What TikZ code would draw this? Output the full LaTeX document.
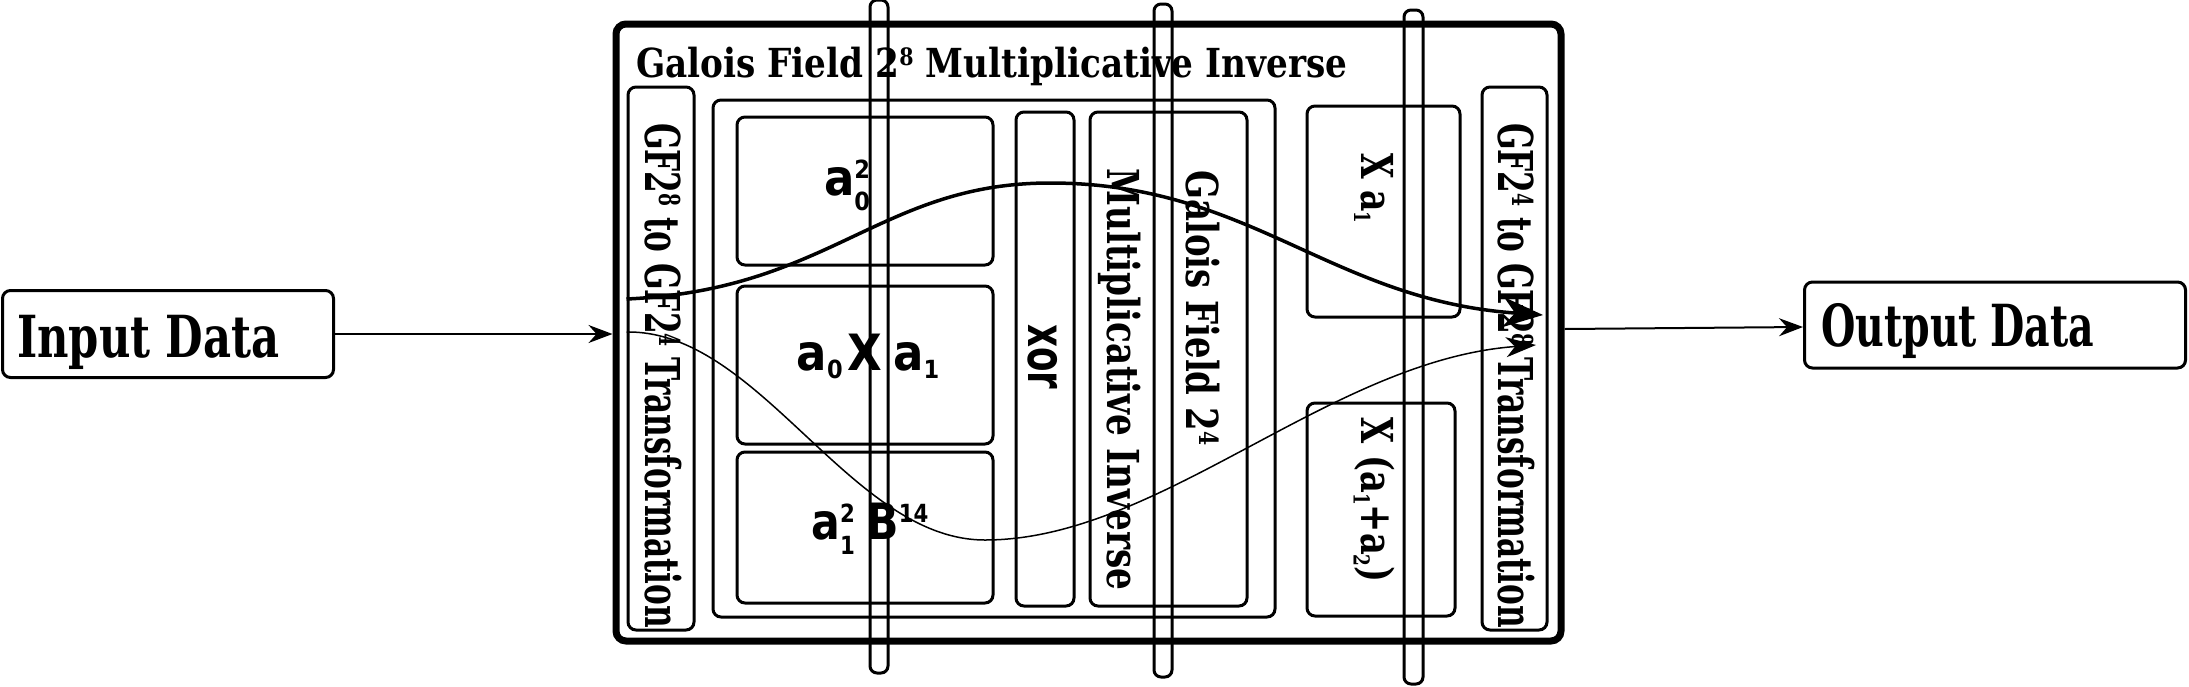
\documentclass[tikz,border=0pt]{standalone}
\usepackage{fontspec}
\setmainfont{DejaVu Serif Condensed}[BoldFont={DejaVu Serif Condensed Bold}]
\newfontfamily\sansc{DejaVu Sans Condensed}[BoldFont={DejaVu Sans Condensed Bold}]
\usetikzlibrary{arrows.meta}
\newcommand{\up}[1]{\raisebox{0.34em}{\scalebox{0.5}{#1}}}
\newcommand{\gsup}[1]{\raisebox{0.3em}{\scalebox{0.6}{#1}}}
\newcommand{\dn}[1]{\raisebox{-0.17em}{\scalebox{0.5}{#1}}}
\newcommand{\ddn}[1]{\raisebox{-0.3em}{\scalebox{0.5}{#1}}}
\newcommand{\updn}[2]{\makebox[0pt][l]{\up{#1}}\ddn{#2}}
\newcommand{\fitw}[2]{\resizebox{#1}{\height}{#2}}
\begin{document}
\begin{tikzpicture}[x=1pt,y=-1pt,
  box/.style={draw, line width=3pt, rounded corners=8pt, inner sep=0pt},
  outerbox/.style={draw, line width=7pt, rounded corners=10pt, inner sep=0pt},
  caps/.style={draw, line width=3pt, rounded corners=7pt, inner sep=0pt},
  arr/.style={line width=2pt, -{Stealth[length=24pt,width=18pt,inset=8pt]}},
  lab/.style={inner sep=0pt},
  serifbig/.style={lab, font=\fontsize{58}{70}\selectfont\bfseries},
  titlef/.style={lab, font=\fontsize{40}{48}\selectfont\bfseries},
  gflab/.style={lab, font=\fontsize{48}{58}\selectfont\bfseries, rotate=-90},
  gfilab/.style={lab, font=\fontsize{44}{52}\selectfont\bfseries, rotate=-90},
  sanslab/.style={lab, font=\fontsize{50}{60}\sansc\bfseries},
  xlab/.style={lab, font=\fontsize{44}{52}\selectfont\bfseries, rotate=-90},
]
\useasboundingbox (0,0) rectangle (2189,686);
% outer container
\node[outerbox, minimum width=945, minimum height=617] (outer) at (1088.5,332.5) {};
\node[titlef, anchor=base west] (title) at (636,77) {\fitw{711pt}{Galois Field 2\gsup{8} Multiplicative Inverse}};
% input / output
\node[box, minimum width=331, minimum height=87] (in) at (168,334) {};
\node[serifbig, anchor=base west] (intext) at (17,357) {\fitw{262pt}{Input Data}};
\node[box, minimum width=381, minimum height=86] (out) at (1995,325) {};
\node[serifbig, anchor=base west] (outtext) at (1821,346) {\fitw{273pt}{Output Data}};
% transformation boxes
\node[box, minimum width=66, minimum height=543] (lgf) at (661,358.5) {};
\node[gflab, anchor=west] (lgft) at (663,123) {\fitw{505pt}{GF2\gsup{8} to GF2\gsup{4} Transformation}};
\node[box, minimum width=65, minimum height=543] (rgf) at (1514.5,358.5) {};
\node[gflab, anchor=west] (rgft) at (1516,123) {\fitw{505pt}{GF2\gsup{4} to GF2\gsup{8} Transformation}};
% inner block
\node[box, minimum width=562, minimum height=517] (inner) at (994,358.5) {};
\node[box, minimum width=256, minimum height=148] (b1) at (865,191) {};
\node[box, minimum width=256, minimum height=158] (b2) at (865,365) {};
\node[box, minimum width=256, minimum height=151] (b3) at (865,527.5) {};
\node[sanslab, anchor=base] (b1t) at (847,195) {a\updn{2}{0}};
\node[sanslab, anchor=base] (b2t) at (868,370) {a\dn{0}\kern5pt X\kern11pt a\dn{1}};
\node[sanslab, anchor=base] (b3t) at (870,539) {\fitw{117pt}{a\updn{2}{1}\kern12pt B\up{14}}};
\node[box, minimum width=58, minimum height=494] (xor) at (1045,359) {};
\node[sanslab, rotate=-90, font=\fontsize{52}{60}\sansc\bfseries] (xort) at (1043,357) {\fitw{65pt}{xor}};
\node[box, minimum width=157, minimum height=494] (gfi) at (1168.5,359) {};
\node[gfilab, anchor=base west] (gfit1) at (1186,170) {\fitw{275pt}{Galois Field 2\gsup{4}}};
\node[gfilab, anchor=base west] (gfit2) at (1107,168) {\fitw{422pt}{Multiplicative Inverse}};
\node[box, minimum width=153, minimum height=211] (xa1) at (1383.5,211.5) {};
\node[xlab] (xa1t) at (1374,188) {\fitw{70pt}{X a\dn{1}}};
\node[box, minimum width=148, minimum height=213] (xa12) at (1381,509.5) {};
\node[xlab] (xa12t) at (1374,500) {\fitw{165pt}{X (a\dn{1}+a\dn{2})}};
% vertical capsules
\node[caps, minimum width=18, minimum height=673] (c1) at (879,336.5) {};
\node[caps, minimum width=18, minimum height=673] (c2) at (1163,340.5) {};
\node[caps, minimum width=19, minimum height=674] (c3) at (1413.5,347) {};
% connectors
\draw[arr] (in.east) -- (outer.west |- in.east);
\coordinate (os) at (outer.east |- 0,329);
\draw[arr] (os) -- (out.west |- 0,327);
\coordinate (ts) at (lgf.west |- 0,299);
\coordinate (te) at (1543,315);
\coordinate (ns) at (lgf.west |- 0,332);
\coordinate (ne) at (1536,345);
\draw[line width=3.5pt, -{Stealth[length=40pt,width=30pt,inset=12pt]}]
  (ts) .. controls (830,290) and (880,183) .. (1050,183)
  .. controls (1250,183) and (1330,300) .. (te);
\draw[line width=1.5pt, -{Stealth[length=30pt,width=20pt,inset=9pt]}]
  (ns) .. controls (760,330) and (850,540) .. (985,540)
  .. controls (1160,540) and (1330,360) .. (ne);
\end{tikzpicture}
\end{document}
